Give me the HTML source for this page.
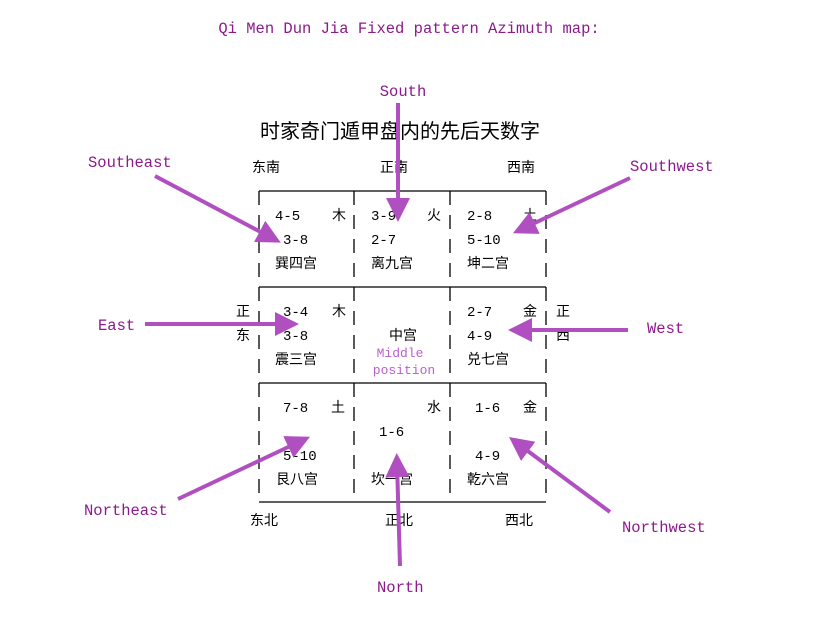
<!DOCTYPE html>
<html><head><meta charset="utf-8"><style>
html,body{margin:0;padding:0;background:#fff;}
svg{display:block}
.t{font-family:"Liberation Mono",monospace;font-size:15.5px;fill:#8b1a8b}
.l{font-family:"Liberation Mono",monospace;font-size:15.5px;fill:#8b1a8b}
.c{font-family:"Liberation Sans","Noto Sans CJK SC",sans-serif;font-size:14px;fill:#000}
.n{font-family:"Liberation Mono","Noto Sans CJK SC",monospace;font-size:14px;fill:#000}
.m{font-family:"Liberation Mono",monospace;font-size:13px;fill:#b760d0}
</style></head><body>
<svg width="823" height="622" viewBox="0 0 823 622">
<defs><marker id="a" markerWidth="6" markerHeight="6" refX="3.5" refY="3" orient="auto" markerUnits="strokeWidth"><path d="M0,0 L6,3 L0,6 Z" fill="#b050c0"/></marker></defs>
<text class="t" x="409" y="33" text-anchor="middle">Qi Men Dun Jia Fixed pattern Azimuth map:</text>
<text class="l" x="403" y="96" text-anchor="middle">South</text>
<text class="c" x="400" y="138" text-anchor="middle" style="font-size:20px">时家奇门遁甲盘内的先后天数字</text>
<text class="c" x="252" y="172">东南</text><text class="c" x="380" y="172">正南</text><text class="c" x="507" y="172">西南</text>
<text class="c" x="250" y="525">东北</text><text class="c" x="385" y="525">正北</text><text class="c" x="505" y="525">西北</text>
<text class="c" x="236" y="316">正</text><text class="c" x="236" y="340">东</text>
<text class="c" x="556" y="316">正</text><text class="c" x="556" y="340">西</text>
<g stroke="#000" stroke-width="1.3" fill="none">
<line x1="259" y1="191" x2="546" y2="191"/><line x1="259" y1="287" x2="546" y2="287"/>
<line x1="259" y1="383" x2="546" y2="383"/><line x1="259" y1="502" x2="546" y2="502"/>
<g stroke-dasharray="14,10">
<line x1="259" y1="191" x2="259" y2="502"/><line x1="354" y1="191" x2="354" y2="502"/>
<line x1="450" y1="191" x2="450" y2="502"/><line x1="546" y1="191" x2="546" y2="502"/>
</g></g>
<text class="n" x="275" y="220">4-5</text><text class="c" x="332" y="220">木</text>
<text class="n" x="283" y="244">3-8</text><text class="c" x="275" y="268">巽四宫</text>
<text class="n" x="371" y="220">3-9</text><text class="c" x="427" y="220">火</text>
<text class="n" x="371" y="244">2-7</text><text class="c" x="371" y="268">离九宫</text>
<text class="n" x="467" y="220">2-8</text><text class="c" x="523" y="220">土</text>
<text class="n" x="467" y="244">5-10</text><text class="c" x="467" y="268">坤二宫</text>
<text class="n" x="283" y="316">3-4</text><text class="c" x="332" y="316">木</text>
<text class="n" x="283" y="340">3-8</text><text class="c" x="275" y="364">震三宫</text>
<text class="c" x="389" y="340">中宫</text>
<text class="m" x="400" y="357" text-anchor="middle">Middle</text>
<text class="m" x="404" y="374" text-anchor="middle">position</text>
<text class="n" x="467" y="316">2-7</text><text class="c" x="523" y="316">金</text>
<text class="n" x="467" y="340">4-9</text><text class="c" x="467" y="364">兑七宫</text>
<text class="n" x="283" y="412">7-8</text><text class="c" x="331" y="412">土</text>
<text class="n" x="283" y="460">5-10</text><text class="c" x="276" y="484">艮八宫</text>
<text class="c" x="427" y="412">水</text><text class="n" x="379" y="436">1-6</text>
<text class="c" x="371" y="484">坎一宫</text>
<text class="n" x="475" y="412">1-6</text><text class="c" x="523" y="412">金</text>
<text class="n" x="475" y="460">4-9</text><text class="c" x="467" y="484">乾六宫</text>
<g stroke="#b050c0" stroke-width="4" marker-end="url(#a)">
<line x1="155" y1="176" x2="272" y2="238"/>
<line x1="398" y1="103" x2="398" y2="212"/>
<line x1="630" y1="178" x2="522" y2="229"/>
<line x1="145" y1="324" x2="289" y2="324"/>
<line x1="628" y1="330" x2="518" y2="330"/>
<line x1="178" y1="499" x2="301" y2="441"/>
<line x1="400" y1="566" x2="397" y2="463"/>
<line x1="610" y1="512" x2="517" y2="443"/>
</g>
<text class="l" x="88" y="167">Southeast</text>
<text class="l" x="630" y="171">Southwest</text>
<text class="l" x="98" y="330">East</text>
<text class="l" x="647" y="333">West</text>
<text class="l" x="84" y="515">Northeast</text>
<text class="l" x="622" y="532">Northwest</text>
<text class="l" x="377" y="592">North</text>
</svg>
</body></html>
